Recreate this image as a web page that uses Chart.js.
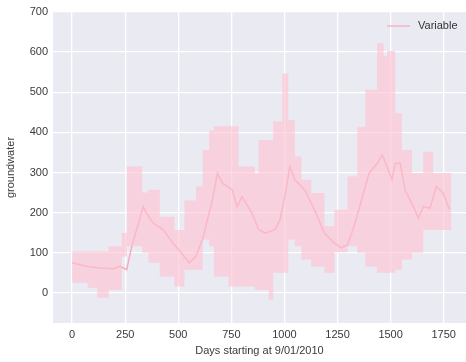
<!DOCTYPE html>
<html>
<head>
<meta charset="utf-8">
<script src="https://cdn.jsdelivr.net/npm/chart.js@4"></script>
<style>
  html, body { margin: 0; padding: 0; background: #fff; }
  #wrap { width: 466px; height: 362px; }
</style>
</head>
<body>
<div id="wrap"><canvas id="chart" width="466" height="362"></canvas></div>
<script>
// mean groundwater line
const days = [0, 71, 133, 195, 226, 257, 281, 335, 350, 382, 428, 475, 514, 552, 583, 614, 661, 684, 707, 754, 777, 800, 847, 878, 909, 956, 979, 1002, 1025, 1049, 1095, 1142, 1188, 1235, 1266, 1297, 1328, 1359, 1398, 1437, 1460, 1483, 1506, 1522, 1545, 1568, 1607, 1631, 1654, 1685, 1716, 1747, 1778];
const meanVals = [75, 66, 62, 60, 66, 58, 116, 215, 199, 174, 158, 124, 100, 75, 91, 133, 232, 298, 274, 257, 215, 240, 199, 158, 149, 158, 182, 240, 315, 282, 257, 207, 149, 124, 112, 120, 166, 224, 298, 323, 344, 315, 282, 323, 323, 257, 215, 187, 215, 211, 265, 249, 207];

// confidence band, stepped blocks
const bandDays = [0, 73, 118, 172, 234, 258, 294, 330, 360, 413, 482, 529, 583, 615, 645, 668, 737, 784, 860, 878, 925, 947, 990, 1018, 1049, 1080, 1126, 1188, 1235, 1297, 1343, 1381, 1436, 1467, 1483, 1522, 1553, 1600, 1654, 1700, 1740, 1786];
const bandLow = [41, 25, 13, -12, 7, 91, 116, 116, 100, 75, 41, 16, 58, 58, 133, 116, 41, 16, 16, 8, 8, -17, 50, 50, 133, 116, 83, 66, 50, 101, 116, 100, 66, 50, 50, 50, 58, 83, 100, 157, 157, 157];
const bandHigh = [112, 103, 103, 103, 116, 150, 315, 315, 250, 257, 190, 157, 230, 265, 356, 405, 415, 415, 315, 299, 381, 381, 427, 547, 431, 340, 282, 249, 166, 207, 290, 414, 506, 622, 589, 603, 448, 356, 299, 352, 299, 299];

const xTicks = [0, 250, 500, 750, 1000, 1250, 1500, 1750];
const yTicks = [0, 100, 200, 300, 400, 500, 600, 700];

const pts = (xs, ys) => xs.map((x, i) => ({ x: x, y: ys[i] }));

const font = { family: "'Liberation Sans', Arial, sans-serif", size: 11 };

const bgPlugin = {
  id: "bg",
  beforeDraw(chart) {
    const { ctx, chartArea: a } = chart;
    ctx.save();
    ctx.fillStyle = "#eaeaf2";
    ctx.fillRect(a.left, a.top, a.right - a.left, a.bottom - a.top);
    ctx.restore();
  },
  afterDraw(chart) {
    // legend inside the plot, top right
    const { ctx, chartArea: a } = chart;
    ctx.save();
    ctx.strokeStyle = "#f9b6c4";
    ctx.lineWidth = 1.5;
    ctx.beginPath();
    ctx.moveTo(a.right - 79, a.top + 14);
    ctx.lineTo(a.right - 56, a.top + 14);
    ctx.stroke();
    ctx.fillStyle = "#333";
    ctx.font = "11px 'Liberation Sans', Arial, sans-serif";
    ctx.textBaseline = "middle";
    ctx.fillText("Variable", a.right - 48, a.top + 14);
    ctx.restore();
  },
};

new Chart(document.getElementById("chart"), {
  type: "line",
  data: {
    datasets: [
      {
        label: "low",
        data: pts(bandDays, bandLow),
        stepped: "after",
        borderWidth: 0,
        pointRadius: 0,
        fill: false,
      },
      {
        label: "high",
        data: pts(bandDays, bandHigh),
        stepped: "after",
        borderWidth: 0,
        pointRadius: 0,
        backgroundColor: "rgba(255, 192, 206, 0.6)",
        fill: "-1",
      },
      {
        label: "Variable",
        data: pts(days, meanVals),
        borderColor: "#f7aabd",
        borderWidth: 1.5,
        pointRadius: 0,
        tension: 0,
        fill: false,
      },
    ],
  },
  options: {
    responsive: false,
    animation: false,
    layout: { padding: { top: 12, right: 0, left: 0, bottom: 0 } },
    plugins: { legend: { display: false }, tooltip: { enabled: false } },
    scales: {
      x: {
        type: "linear",
        min: -90,
        max: 1855,
        afterBuildTicks: (s) => { s.ticks = xTicks.map((v) => ({ value: v })); },
        afterFit: (s) => { s.height = 39; },
        grid: { color: "#ffffff", lineWidth: 1.3, drawTicks: false },
        border: { display: false },
        ticks: { color: "#3a3a3a", font: font, padding: 5, maxRotation: 0, callback: (v) => String(v) },
        title: { display: true, text: "Days starting at 9/01/2010", color: "#3a3a3a", font: font, padding: { top: 0 } },
      },
      y: {
        min: -75,
        max: 700,
        afterBuildTicks: (s) => { s.ticks = yTicks.map((v) => ({ value: v })); },
        afterFit: (s) => { s.width = 53; },
        grid: { color: "#ffffff", lineWidth: 1.3, drawTicks: false },
        border: { display: false },
        ticks: { color: "#3a3a3a", font: font, padding: 5, callback: (v) => String(v) },
        title: { display: true, text: "groundwater", color: "#3a3a3a", font: font, padding: { bottom: 6 } },
      },
    },
  },
  plugins: [bgPlugin],
});
</script>
</body>
</html>
